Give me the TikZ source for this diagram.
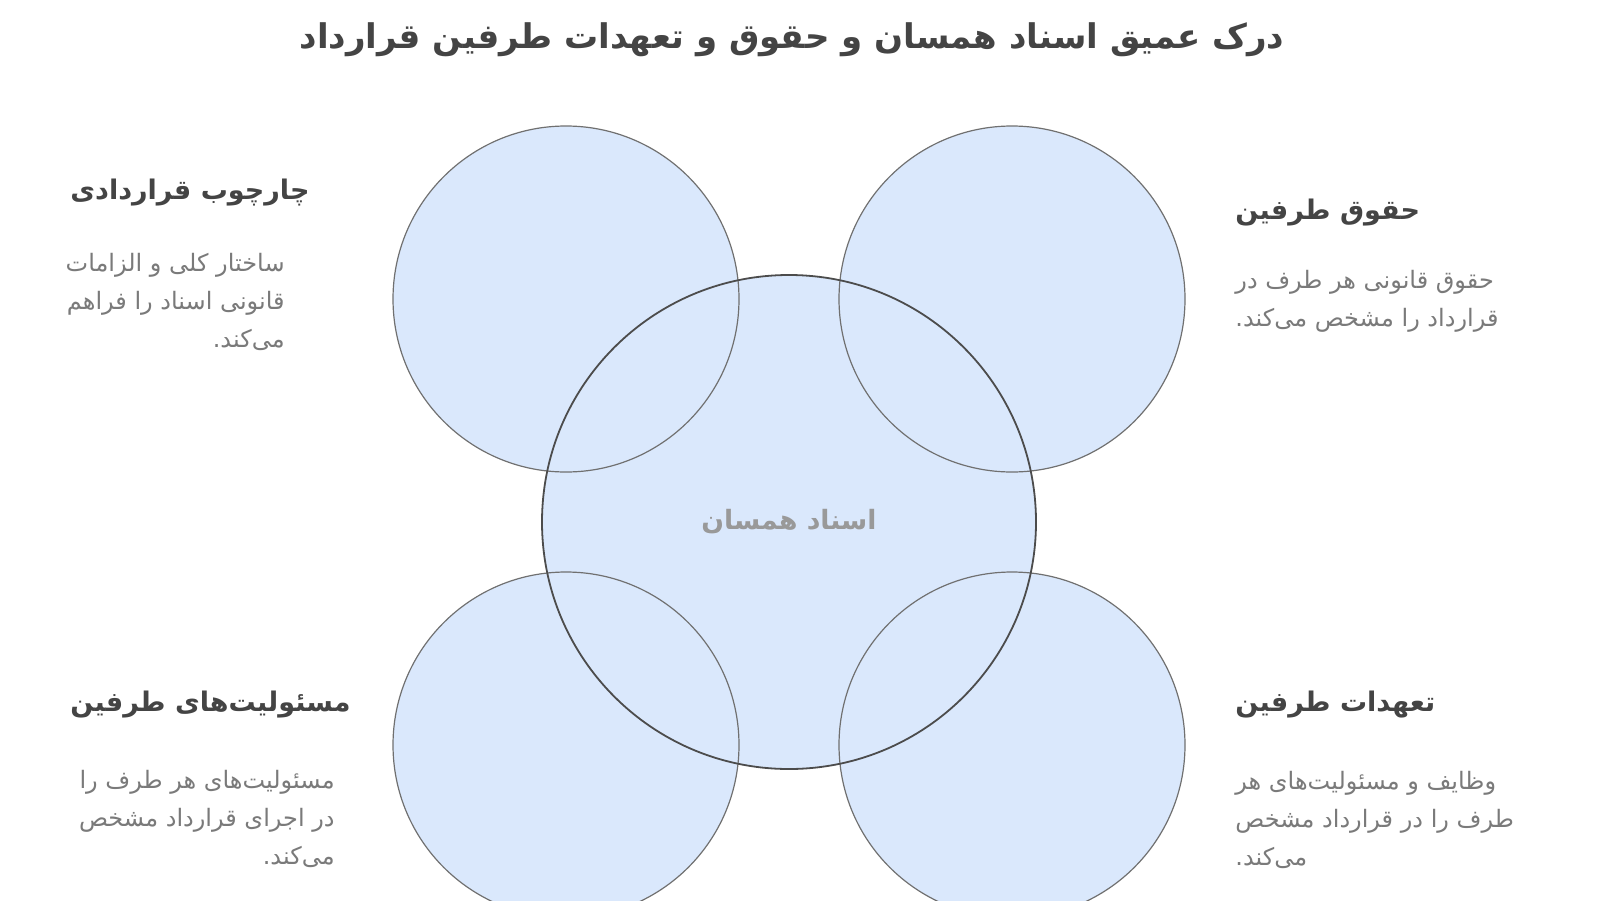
\documentclass[tikz,border=0pt]{standalone}
\usepackage{fontspec}
\newfontfamily\arabicfont[Script=Arabic]{DejaVu Sans}
\TeXXeTstate=1
\newcommand{\fa}[1]{\beginR #1\endR}
\definecolor{circfill}{HTML}{DAE8FC}
\definecolor{circline}{HTML}{707070}
\definecolor{headtext}{HTML}{444444}
\definecolor{desctext}{HTML}{7A7A7A}
\definecolor{midtext}{HTML}{999999}

\begin{document}
\begin{tikzpicture}[x=0.5pt,y=-0.5pt,
    disc/.style={circle,fill=circfill,inner sep=0pt,minimum size=#1},
    ring/.style={draw=circline,line width=0.6pt},
    heading/.style={font={\arabicfont\bfseries\fontsize{13.5}{16}\selectfont},text=headtext,inner sep=0pt},
    desc/.style={font={\arabicfont\fontsize{12}{19}\selectfont},text=desctext,inner sep=0pt}]
            \useasboundingbox (0,0) rectangle (1600,900);
            \clip (0,0) rectangle (1600,900);
            % circles
            \node [disc=173pt] (tl) at (566,299) {};
            \node [disc=173pt] (tr) at (1012,299) {};
            \node [disc=173pt] (bl) at (566,745) {};
            \node [disc=173pt] (br) at (1012,745) {};
            \node [disc=247pt] (mid) at (789,522) {};
            \foreach \c in {tl,tr,bl,br}
                \draw [ring] (\c.center) circle (173);
            \draw [ring,draw=black!70,line width=0.9pt] (mid.center) circle (247);
            \node [font={\arabicfont\bfseries\fontsize{13.3}{16}\selectfont},text=midtext] (midlabel) at (mid.center) {\fa{اسناد همسان}};
            % title
            \node [font={\arabicfont\bfseries\fontsize{17}{20}\selectfont},text=headtext] (title) at (792,40) {\fa{درک عمیق اسناد همسان و حقوق و تعهدات طرفین قرارداد}};
            % left column
            \node [heading,anchor=west] (tlhead) at (70,193) {\fa{چارچوب قراردادی}};
            \node [desc,anchor=east,align=right] (tldesc) at (285,302) {\fa{ساختار کلی و الزامات}\\\fa{قانونی اسناد را فراهم}\\\fa{می‌کند.}};
            \node [heading,anchor=west] (blhead) at (70,705) {\fa{مسئولیت‌های طرفین}};
            \node [desc,anchor=east,align=right] (bldesc) at (335,819) {\fa{مسئولیت‌های هر طرف را}\\\fa{در اجرای قرارداد مشخص}\\\fa{می‌کند.}};
            % right column
            \node [heading,anchor=west] (trhead) at (1235,213) {\fa{حقوق طرفین}};
            \node [desc,anchor=west,align=left] (trdesc) at (1235,301) {\fa{حقوق قانونی هر طرف در}\\\fa{قرارداد را مشخص می‌کند.}};
            \node [heading,anchor=west] (brhead) at (1235,705) {\fa{تعهدات طرفین}};
            \node [desc,anchor=west,align=left] (brdesc) at (1235,820) {\fa{وظایف و مسئولیت‌های هر}\\\fa{طرف را در قرارداد مشخص}\\\fa{می‌کند.}};
\end{tikzpicture}
\end{document}
